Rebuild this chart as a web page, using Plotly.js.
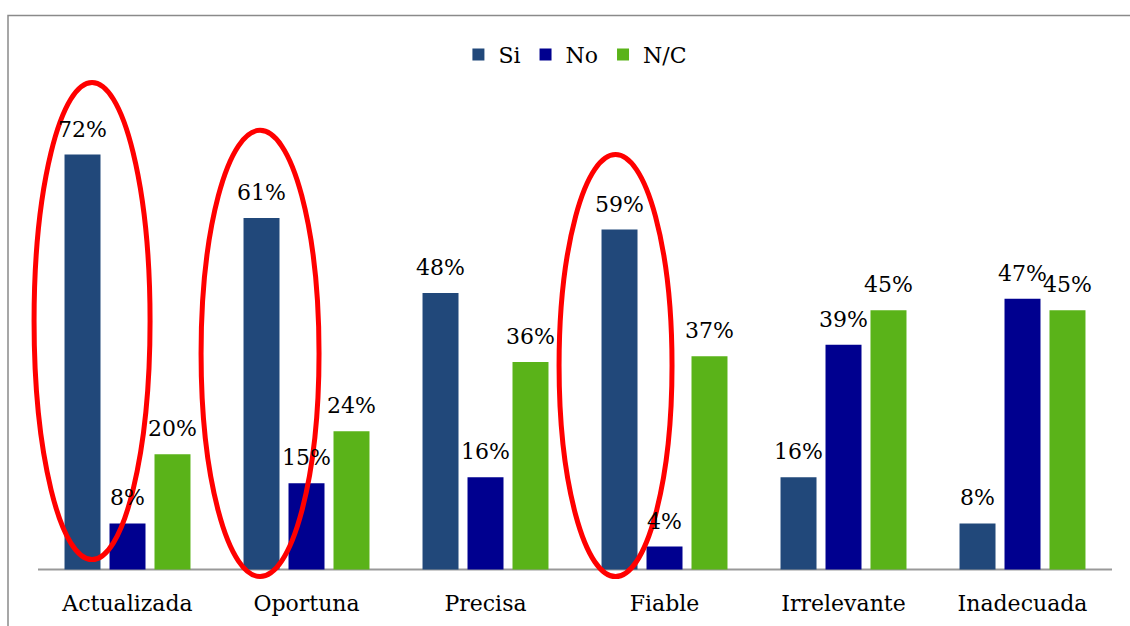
<!DOCTYPE html>
<html>
<head>
<meta charset="utf-8">
<script src="https://cdn.plot.ly/plotly-3.0.1.min.js"></script>
<style>html,body{margin:0;padding:0;background:#fff;}#chart{width:1130px;height:626px;}</style>
</head>
<body>
<div id="chart"></div>
<script>
const categories = ["Actualizada", "Oportuna", "Precisa", "Fiable", "Irrelevante", "Inadecuada"];
const seriesNames = ["Si", "No", "N/C"];
const siValues = [72, 61, 48, 59, 16, 8];
const noValues = [8, 15, 16, 4, 39, 47];
const ncValues = [20, 24, 36, 37, 45, 45];
const seriesColors = ["#21487A", "#00008F", "#5AB319"];

const allValues = [siValues, noValues, ncValues];
const FONT = "DejaVu Serif, Liberation Serif, serif";
const bargap = 0.246;

const traces = allValues.map((vals, j) => ({
  type: "bar",
  name: seriesNames[j],
  x: categories,
  y: vals,
  marker: {color: seriesColors[j], line: {width: 0}},
  hoverinfo: "skip"
}));

const annotations = [];
allValues.forEach((vals, j) => {
  vals.forEach((v, i) => {
    annotations.push({
      x: i + (j - 1) * (1 - bargap) / 3,
      y: v,
      xref: "x", yref: "y",
      text: v + "%",
      showarrow: false,
      yanchor: "bottom",
      yshift: 11,
      font: {family: FONT, size: 22, color: "#000"}
    });
  });
});

const ellipse = (x0, x1, y0, y1) => ({
  type: "circle", xref: "x", yref: "y",
  x0: x0, x1: x1, y0: y0, y1: y1,
  line: {color: "#FF0000", width: 5}, fillcolor: "rgba(0,0,0,0)", layer: "above"
});

const layout = {
  width: 1130, height: 626,
  margin: {l: 28, r: 18, t: 22, b: 42},
  paper_bgcolor: "#fff", plot_bgcolor: "#fff",
  barmode: "group",
  bargap: bargap,
  bargroupgap: 0.2,
  showlegend: true,
  legend: {
    orientation: "h", x: 0.505, xanchor: "center", y: 0.942, yanchor: "middle",
    font: {family: FONT, size: 22, color: "#000"},
    itemwidth: 30, traceorder: "normal"
  },
  xaxis: {
    type: "category",
    range: [-0.5559, 5.5],
    showline: false, showgrid: false, ticks: "",
    ticklabelstandoff: 4,
    tickfont: {family: FONT, size: 22, color: "#000"},
    fixedrange: true
  },
  yaxis: {
    range: [-2.5, 95],
    showticklabels: false, showgrid: false, showline: false,
    zeroline: false,
    fixedrange: true
  },
  annotations: annotations,
  shapes: [
    {type: "line", xref: "x", yref: "y", x0: -0.5, x1: 5.5, y0: 0, y1: 0,
     line: {color: "#999", width: 2}, layer: "below"},
    ellipse(-0.522, 0.126, 1.73, 84.5),
    ellipse(0.411, 1.070, -1.21, 76.2),
    ellipse(2.411, 3.042, -1.21, 72.0),
    {type: "rect", xref: "paper", yref: "paper", x0: -0.01845, x1: 1.5, y0: -0.5, y1: 1.0114,
     line: {color: "#8a8a8a", width: 1.5}, fillcolor: "rgba(0,0,0,0)", layer: "below"}
  ]
};

Plotly.newPlot("chart", traces, layout, {displayModeBar: false, staticPlot: true});
</script>
</body>
</html>
